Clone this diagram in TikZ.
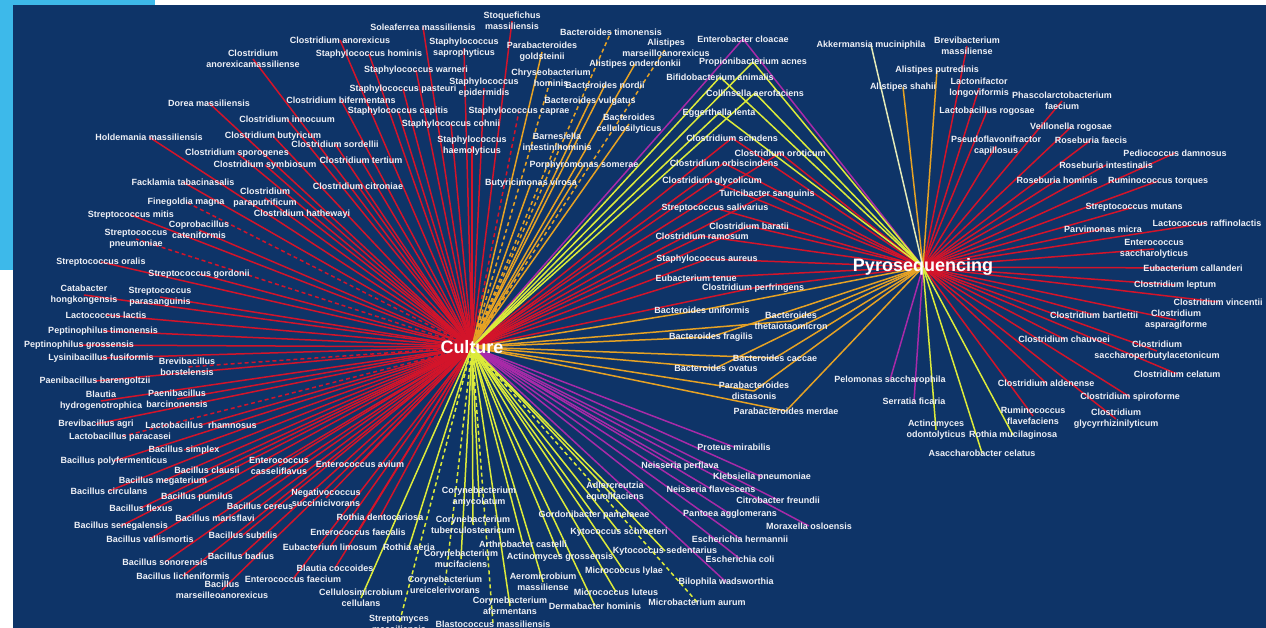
\documentclass[tikz,border=0pt]{standalone}
\usepackage{fontspec}
\setmainfont{Liberation Sans}
\usepackage{xcolor}
\usepackage{tikz}
\definecolor{navy}{HTML}{0E3468}
\definecolor{skyblue}{HTML}{3DB9EA}
\definecolor{netred}{HTML}{D3142A}
\definecolor{netorange}{HTML}{E6A224}
\definecolor{netyellow}{HTML}{DDEB3A}
\definecolor{netmagenta}{HTML}{A82AA8}
\definecolor{netpale}{HTML}{E4EAB8}
\definecolor{labeltext}{HTML}{EEF0F6}
\pgfdeclarelayer{back}
\pgfdeclarelayer{links}
\pgfsetlayers{back,links,main}
\tikzset{
    net label/.style={
        text=labeltext,
        font=\bfseries\fontsize{9}{11}\selectfont,
        align=center,
        inner sep=0pt
    },
    net hub/.style={
        text=white,
        font=\bfseries\fontsize{18}{20}\selectfont,
        inner sep=0pt
    },
    net link/.style={line width=1.5pt},
    net red/.style={net link, draw=netred},
    net orange/.style={net link, draw=netorange},
    net yellow/.style={net link, draw=netyellow},
    net magenta/.style={net link, draw=netmagenta},
    net pale/.style={net link, draw=netpale},
    net dashed/.style={dash pattern=on 4pt off 3pt}
}

\begin{document}
\begin{tikzpicture}[x=1pt, y=-1pt]
\begin{pgfonlayer}{back}
\fill[skyblue] (0,0) rectangle (155,270);
\fill[navy] (13,5) rectangle (1266,628);
\end{pgfonlayer}
\useasboundingbox (0,0) rectangle (1266,628);

% Hubs
\node[net hub] (cul) at (472,347) {Culture};
\node[net hub] (pyro) at (923,267) {Pyrosequencing};

% Culture only: red
\node[net label] (cl-anorexicus) at (340,40) {Clostridium anorexicus};
\node[net label] (cl-anorexicam) at (253,59) {Clostridium\\anorexicamassiliense};
\node[net label] (st-hominis) at (369,54) {Staphylococcus hominis};
\node[net label] (so-massiliensis) at (423,27) {Soleaferrea massiliensis};
\node[net label] (sq-massiliensis) at (512,21) {Stoquefichus\\massiliensis};
\node[net label] (st-saprophyticus) at (464,48) {Staphylococcus\\saprophyticus};
\node[net label] (st-warneri) at (416,70) {Staphylococcus warneri};
\node[net label] (st-epidermidis) at (484,88) {Staphylococcus\\epidermidis};
\node[net label] (st-pasteuri) at (403,89) {Staphylococcus pasteuri};
\node[net label] (cl-bifermentans) at (341,100) {Clostridium bifermentans};
\node[net label] (st-capitis) at (398,111) {Staphylococcus capitis};
\node[net label] (st-caprae) at (519,111) {Staphylococcus caprae};
\node[net label] (st-cohnii) at (451,124) {Staphylococcus cohnii};
\node[net label] (st-haemolyticus) at (472,146) {Staphylococcus\\haemolyticus};
\node[net label] (cl-innocuum) at (287,119) {Clostridium innocuum};
\node[net label] (do-massiliensis) at (209,103) {Dorea massiliensis};
\node[net label] (ho-massiliensis) at (149,137) {Holdemania massiliensis};
\node[net label] (cl-butyricum) at (273,136) {Clostridium butyricum};
\node[net label] (cl-sordellii) at (335,144) {Clostridium sordellii};
\node[net label] (cl-sporogenes) at (237,153) {Clostridium sporogenes};
\node[net label] (cl-symbiosum) at (265,165) {Clostridium symbiosum};
\node[net label] (cl-tertium) at (361,160) {Clostridium tertium};
\node[net label] (fa-tabacinasalis) at (183,182) {Facklamia tabacinasalis};
\node[net label] (cl-citroniae) at (358,186) {Clostridium citroniae};
\node[net label] (cl-paraputrificum) at (265,198) {Clostridium\\paraputrificum};
\node[net label] (fi-magna) at (186,202) {Finegoldia magna};
\node[net label] (cl-hathewayi) at (302,214) {Clostridium hathewayi};
\node[net label] (sc-mitis) at (131,215) {Streptococcus mitis};
\node[net label] (co-cateniformis) at (199,230) {Coprobacillus\\cateniformis};
\node[net label] (sc-pneumoniae) at (136,239) {Streptococcus\\pneumoniae};
\node[net label] (sc-oralis) at (101,262) {Streptococcus oralis};
\node[net label] (sc-gordonii) at (199,274) {Streptococcus gordonii};
\node[net label] (ca-hongkongensis) at (84,295) {Catabacter\\hongkongensis};
\node[net label] (sc-parasanguinis) at (160,297) {Streptococcus\\parasanguinis};
\node[net label] (la-lactis) at (106,315) {Lactococcus lactis};
\node[net label] (pe-timonensis) at (103,331) {Peptinophilus timonensis};
\node[net label] (pe-grossensis) at (79,345) {Peptinophilus grossensis};
\node[net label] (ly-fusiformis) at (101,358) {Lysinibacillus fusiformis};
\node[net label] (br-borstelensis) at (187,367) {Brevibacillus\\borstelensis};
\node[net label] (pa-barengoltzii) at (95,381) {Paenibacillus barengoltzii};
\node[net label] (bl-hydrogenotrophica) at (101,401) {Blautia\\hydrogenotrophica};
\node[net label] (pa-barcinonensis) at (177,399) {Paenibacillus\\barcinonensis};
\node[net label] (br-agri) at (96,424) {Brevibacillus agri};
\node[net label] (lb-rhamnosus) at (201,425) {Lactobacillus\ \ rhamnosus};
\node[net label] (lb-paracasei) at (120,437) {Lactobacillus paracasei};
\node[net label] (ba-simplex) at (184,450) {Bacillus simplex};
\node[net label] (ba-polyfermenticus) at (114,461) {Bacillus polyfermenticus};
\node[net label] (en-casseliflavus) at (279,466) {Enterococcus\\casseliflavus};
\node[net label] (ba-clausii) at (207,470) {Bacillus clausii};
\node[net label] (en-avium) at (360,464) {Enterococcus avium};
\node[net label] (ba-megaterium) at (163,481) {Bacillus megaterium};
\node[net label] (ba-circulans) at (109,491) {Bacillus circulans};
\node[net label] (ba-pumilus) at (197,497) {Bacillus pumilus};
\node[net label] (ne-succinicivorans) at (326,498) {Negativococcus\\succinicivorans};
\node[net label] (ba-flexus) at (141,508) {Bacillus flexus};
\node[net label] (ba-cereus) at (260,506) {Bacillus cereus};
\node[net label] (ba-marisflavi) at (215,518) {Bacillus marisflavi};
\node[net label] (ro-dentocariosa) at (380,517) {Rothia dentocariosa};
\node[net label] (ba-senegalensis) at (121,526) {Bacillus senegalensis};
\node[net label] (en-faecalis) at (358,532) {Enterococcus faecalis};
\node[net label] (ba-vallismortis) at (150,539) {Bacillus vallismortis};
\node[net label] (ba-subtilis) at (243,535) {Bacillus subtilis};
\node[net label] (eu-limosum) at (330,547) {Eubacterium limosum};
\node[net label] (ba-badius) at (241,556) {Bacillus badius};
\node[net label] (ba-sonorensis) at (165,562) {Bacillus sonorensis};
\node[net label] (bl-coccoides) at (335,568) {Blautia coccoides};
\node[net label] (ba-licheniformis) at (183,576) {Bacillus licheniformis};
\node[net label] (ba-marseilleo) at (222,590) {Bacillus\\marseilleoanorexicus};
\node[net label] (en-faecium) at (293,579) {Enterococcus faecium};

% Culture only: orange
\node[net label] (pb-goldsteinii) at (542,52) {Parabacteroides\\goldsteinii};
\node[net label] (bc-timonensis) at (611,32) {Bacteroides timonensis};
\node[net label] (al-marseillo) at (666,48) {Alistipes\\marseilloanorexicus};
\node[net label] (al-onderdonkii) at (635,64) {Alistipes onderdonkii};
\node[net label] (ch-hominis) at (551,78) {Chryseobacterium\\hominis};
\node[net label] (bc-nordii) at (605,85) {Bacteroides nordii};
\node[net label] (bc-vulgatus) at (590,101) {Bacteroides vulgatus};
\node[net label] (bc-cellulosilyticus) at (629,124) {Bacteroides\\cellulosilyticus};
\node[net label] (bn-intestinihominis) at (557,142) {Barnesiella\\intestinihominis};
\node[net label] (po-somerae) at (584,165) {Porphyromonas somerae};
\node[net label] (bu-virosa) at (531,183) {Butyricimonas virosa};

% Culture only: magenta
\node[net label] (pr-mirabilis) at (734,447) {Proteus mirabilis};
\node[net label] (ne-perflava) at (680,466) {Neisseria perflava};
\node[net label] (kl-pneumoniae) at (762,477) {Klebsiella pneumoniae};
\node[net label] (ne-flavescens) at (711,489) {Neisseria flavescens};
\node[net label] (ci-freundii) at (778,500) {Citrobacter freundii};
\node[net label] (pn-agglomerans) at (730,514) {Pantoea agglomerans};
\node[net label] (mo-osloensis) at (809,526) {Moraxella osloensis};
\node[net label] (es-hermannii) at (740,539) {Escherichia hermannii};
\node[net label] (es-coli) at (740,559) {Escherichia coli};
\node[net label] (bi-wadsworthia) at (726,582) {Bilophila wadsworthia};

% Culture only: yellow
\node[net label] (ro-aeria) at (409,547) {Rothia aeria};
\node[net label] (ce-cellulans) at (361,598) {Cellulosimicrobium\\cellulans};
\node[net label] (sm-massiliensis) at (399,624) {Streptomyces\\massiliensis};
\node[net label] (co-amycolatum) at (479,497) {Corynebacterium\\amycolatum};
\node[net label] (co-tuberculo) at (473,525) {Corynebacterium\\tuberculostearicum};
\node[net label] (co-mucifaciens) at (461,559) {Corynebacterium\\mucifaciens};
\node[net label] (co-ureicelerivorans) at (445,585) {Corynebacterium\\ureicelerivorans};
\node[net label] (ar-castelli) at (523,544) {Arthrobacter castelli};
\node[net label] (ac-grossensis) at (560,557) {Actinomyces grossensis};
\node[net label] (ae-massiliense) at (543,582) {Aeromicrobium\\massiliense};
\node[net label] (co-afermentans) at (510,606) {Corynebacterium\\afermentans};
\node[net label] (bs-massiliensis) at (493,624) {Blastococcus massiliensis};
\node[net label] (de-hominis) at (595,606) {Dermabacter hominis};
\node[net label] (mi-luteus) at (616,592) {Micrococcus luteus};
\node[net label] (mi-lylae) at (624,571) {Micrococcus lylae};
\node[net label] (ky-sedentarius) at (665,551) {Kytococcus sedentarius};
\node[net label] (ky-schroeteri) at (619,532) {Kytococcus schroeteri};
\node[net label] (go-pamelaeae) at (594,515) {Gordonibacter pamelaeae};
\node[net label] (ad-equolifaciens) at (615,492) {Adlercreutzia\\equolifaciens};
\node[net label] (mb-aurum) at (697,602) {Microbacterium aurum};

% Both hubs
\node[net label] (en-cloacae) at (743,39) {Enterobacter cloacae};
\node[net label] (pr-acnes) at (753,62) {Propionibacterium acnes};
\node[net label] (bf-animalis) at (720,77) {Bifidobacterium animalis};
\node[net label] (co-aerofaciens) at (755,93) {Collinsella aerofaciens};
\node[net label] (eg-lenta) at (719,113) {Eggerthella lenta};
\node[net label] (cl-scindens) at (732,138) {Clostridium scindens};
\node[net label] (cl-oroticum) at (780,153) {Clostridium oroticum};
\node[net label] (cl-orbiscindens) at (724,163) {Clostridium orbiscindens};
\node[net label] (cl-glycolicum) at (712,181) {Clostridium glycolicum};
\node[net label] (tu-sanguinis) at (767,194) {Turicibacter sanguinis};
\node[net label] (sc-salivarius) at (715,208) {Streptococcus salivarius};
\node[net label] (cl-baratii) at (749,226) {Clostridium baratii};
\node[net label] (cl-ramosum) at (702,236) {Clostridium ramosum};
\node[net label] (st-aureus) at (707,259) {Staphylococcus aureus};
\node[net label] (eu-tenue) at (696,278) {Eubacterium tenue};
\node[net label] (cl-perfringens) at (753,288) {Clostridium perfringens};
\node[net label] (bc-uniformis) at (702,310) {Bacteroides uniformis};
\node[net label] (bc-theta) at (791,321) {Bacteroides\\thetaiotaomicron};
\node[net label] (bc-fragilis) at (711,337) {Bacteroides fragilis};
\node[net label] (bc-caccae) at (775,358) {Bacteroides caccae};
\node[net label] (bc-ovatus) at (716,368) {Bacteroides ovatus};
\node[net label] (pb-distasonis) at (754,391) {Parabacteroides\\distasonis};
\node[net label] (pb-merdae) at (786,411) {Parabacteroides merdae};

% Pyrosequencing only
\node[net label] (ak-muciniphila) at (871,45) {Akkermansia muciniphila};
\node[net label] (al-shahii) at (903,87) {Alistipes shahii};
\node[net label] (al-putredinis) at (937,70) {Alistipes putredinis};
\node[net label] (bv-massiliense) at (967,46) {Brevibacterium\\massiliense};
\node[net label] (lf-longoviformis) at (979,88) {Lactonifactor\\longoviformis};
\node[net label] (ph-faecium) at (1062,101) {Phascolarctobacterium\\faecium};
\node[net label] (lb-rogosae) at (987,111) {Lactobacillus rogosae};
\node[net label] (ve-rogosae) at (1071,127) {Veillonella rogosae};
\node[net label] (ps-capillosus) at (996,146) {Pseudoflavonifractor\\capillosus};
\node[net label] (rb-faecis) at (1091,140) {Roseburia faecis};
\node[net label] (pd-damnosus) at (1175,153) {Pediococcus damnosus};
\node[net label] (rb-intestinalis) at (1106,165) {Roseburia intestinalis};
\node[net label] (rb-hominis) at (1057,180) {Roseburia hominis};
\node[net label] (ru-torques) at (1158,181) {Ruminococcus torques};
\node[net label] (sc-mutans) at (1134,207) {Streptococcus mutans};
\node[net label] (pv-micra) at (1103,229) {Parvimonas micra};
\node[net label] (lc-raffinolactis) at (1207,223) {Lactococcus raffinolactis};
\node[net label] (en-saccharolyticus) at (1154,249) {Enterococcus\\saccharolyticus};
\node[net label] (eu-callanderi) at (1193,268) {Eubacterium callanderi};
\node[net label] (cl-leptum) at (1175,285) {Clostridium leptum};
\node[net label] (cl-vincentii) at (1218,302) {Clostridium vincentii};
\node[net label] (cl-bartlettii) at (1094,315) {Clostridium bartlettii};
\node[net label] (cl-asparagiforme) at (1176,320) {Clostridium\\asparagiforme};
\node[net label] (cl-chauvoei) at (1064,339) {Clostridium chauvoei};
\node[net label] (cl-saccharoperbutyl) at (1157,351) {Clostridium\\saccharoperbutylacetonicum};
\node[net label] (cl-celatum) at (1177,374) {Clostridium celatum};
\node[net label] (cl-aldenense) at (1046,383) {Clostridium aldenense};
\node[net label] (cl-spiroforme) at (1130,397) {Clostridium spiroforme};
\node[net label] (ru-flavefaciens) at (1033,416) {Ruminococcus\\flavefaciens};
\node[net label] (cl-glycyrrhiz) at (1116,419) {Clostridium\\glycyrrhizinilyticum};
\node[net label] (ac-odontolyticus) at (936,430) {Actinomyces\\odontolyticus};
\node[net label] (ro-mucilaginosa) at (1013,435) {Rothia mucilaginosa};
\node[net label] (as-celatus) at (982,453) {Asaccharobacter celatus};
\node[net label] (pe-saccharophila) at (890,380) {Pelomonas saccharophila};
\node[net label] (se-ficaria) at (914,401) {Serratia ficaria};

% Links, under the labels
\begin{pgfonlayer}{links}
\foreach \n in {cl-anorexicus, cl-anorexicam, st-hominis, so-massiliensis, sq-massiliensis,
    st-saprophyticus, st-warneri, st-epidermidis, st-pasteuri, cl-bifermentans, st-capitis,
    st-cohnii, st-haemolyticus, cl-innocuum, do-massiliensis, ho-massiliensis, cl-butyricum,
    cl-sordellii, cl-sporogenes, cl-symbiosum, cl-tertium, fa-tabacinasalis, cl-citroniae,
    cl-paraputrificum, cl-hathewayi, sc-mitis, co-cateniformis, sc-oralis, sc-gordonii,
    ca-hongkongensis, sc-parasanguinis, la-lactis, pe-timonensis, pe-grossensis, ly-fusiformis,
    pa-barengoltzii, bl-hydrogenotrophica, pa-barcinonensis, br-agri, lb-rhamnosus, ba-simplex,
    ba-polyfermenticus, en-casseliflavus, ba-clausii, en-avium, ba-megaterium, ba-circulans,
    ba-pumilus, ne-succinicivorans, ba-flexus, ba-cereus, ba-marisflavi, ro-dentocariosa,
    ba-senegalensis, en-faecalis, ba-vallismortis, ba-subtilis, eu-limosum, ba-badius,
    ba-sonorensis, bl-coccoides, ba-licheniformis, ba-marseilleo, en-faecium,
    cl-scindens, cl-oroticum, cl-orbiscindens, cl-glycolicum, tu-sanguinis, sc-salivarius,
    cl-baratii, cl-ramosum, st-aureus, eu-tenue, cl-perfringens}
    \draw[net red] (cul.center) -- (\n.center);
\foreach \n in {st-caprae, fi-magna, sc-pneumoniae, br-borstelensis, lb-paracasei}
    \draw[net red, net dashed] (cul.center) -- (\n.center);
\foreach \n in {pb-goldsteinii, al-onderdonkii, bc-nordii, bc-vulgatus, bc-cellulosilyticus,
    po-somerae, bu-virosa, bc-uniformis, bc-theta, bc-fragilis, bc-caccae, bc-ovatus,
    pb-distasonis, pb-merdae}
    \draw[net orange] (cul.center) -- (\n.center);
\foreach \n in {bc-timonensis, al-marseillo, ch-hominis, bn-intestinihominis}
    \draw[net orange, net dashed] (cul.center) -- (\n.center);
\foreach \n in {en-cloacae, pr-mirabilis, ne-perflava, kl-pneumoniae, ne-flavescens,
    ci-freundii, pn-agglomerans, mo-osloensis, es-hermannii, es-coli, bi-wadsworthia}
    \draw[net magenta] (cul.center) -- (\n.center);
\foreach \n in {pr-acnes, bf-animalis, co-aerofaciens, eg-lenta, ro-aeria, ce-cellulans,
    co-amycolatum, co-tuberculo, co-mucifaciens, ar-castelli, ac-grossensis, ae-massiliense,
    co-afermentans, de-hominis, mi-luteus, mi-lylae, ky-sedentarius, ky-schroeteri,
    go-pamelaeae, ad-equolifaciens}
    \draw[net yellow] (cul.center) -- (\n.center);
\foreach \n in {sm-massiliensis, co-ureicelerivorans, bs-massiliensis, mb-aurum}
    \draw[net yellow, net dashed] (cul.center) -- (\n.center);

\foreach \n in {cl-scindens, cl-oroticum, cl-orbiscindens, cl-glycolicum, tu-sanguinis,
    sc-salivarius, cl-baratii, cl-ramosum, st-aureus, eu-tenue, cl-perfringens,
    bv-massiliense, lf-longoviformis, ph-faecium, lb-rogosae, ve-rogosae, ps-capillosus,
    rb-faecis, pd-damnosus, rb-intestinalis, rb-hominis, ru-torques, sc-mutans, pv-micra,
    lc-raffinolactis, en-saccharolyticus, eu-callanderi, cl-leptum, cl-vincentii,
    cl-bartlettii, cl-asparagiforme, cl-chauvoei, cl-saccharoperbutyl, cl-celatum,
    cl-aldenense, cl-spiroforme, ru-flavefaciens, cl-glycyrrhiz}
    \draw[net red] (pyro.center) -- (\n.center);
\foreach \n in {al-shahii, al-putredinis, bc-uniformis, bc-theta, bc-fragilis, bc-caccae,
    bc-ovatus, pb-distasonis, pb-merdae}
    \draw[net orange] (pyro.center) -- (\n.center);
\foreach \n in {en-cloacae, pe-saccharophila, se-ficaria}
    \draw[net magenta] (pyro.center) -- (\n.center);
\foreach \n in {pr-acnes, bf-animalis, co-aerofaciens, eg-lenta, ac-odontolyticus,
    ro-mucilaginosa, as-celatus}
    \draw[net yellow] (pyro.center) -- (\n.center);
\draw[net pale] (pyro.center) -- (ak-muciniphila.center);
\end{pgfonlayer}
\end{tikzpicture}
\end{document}
